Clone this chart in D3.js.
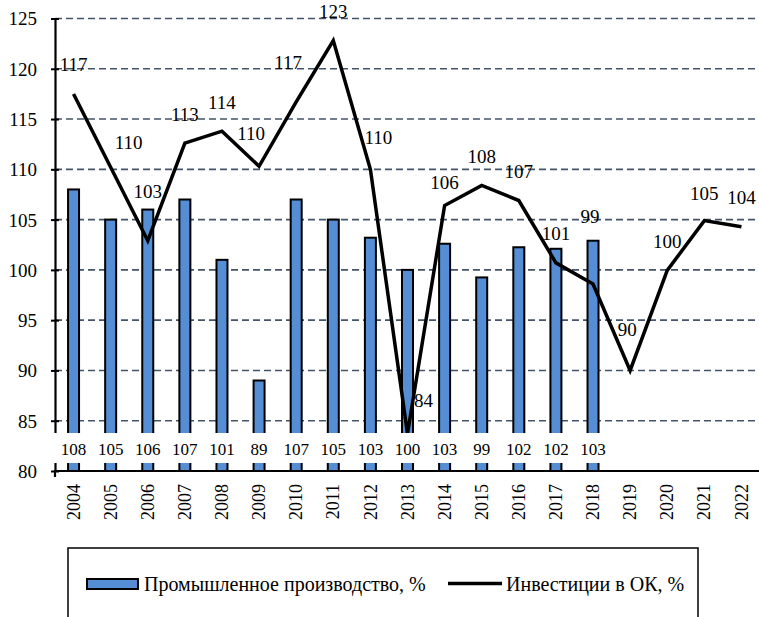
<!DOCTYPE html>
<html><head><meta charset="utf-8">
<script src="https://cdn.jsdelivr.net/npm/d3@7"></script>
<style>
html,body{margin:0;padding:0;background:#fff;}
svg{display:block;}
svg text{font-family:"Liberation Serif","Times New Roman",serif;}
</style></head>
<body>
<svg id="chart" width="759" height="617"></svg>
<script>
const years = ["2004","2005","2006","2007","2008","2009","2010","2011","2012","2013","2014","2015","2016","2017","2018","2019","2020","2021","2022"];
const industrial = [108,105,106,107,101,89,107,105,103.2,100,102.6,99.25,102.25,102.1,102.9,null,null,null,null];
const industrialLabels = ["108","105","106","107","101","89","107","105","103","100","103","99","102","102","103"];
const investment = [117.5,110.2,102.9,112.6,113.8,110.3,116.7,122.8,110,83.7,106.4,108.4,106.9,100.7,98.6,90,99.95,104.9,104.3];
const investmentLabels = ["117","110","103","113","114","110","117","123","110","84","106","108","107","101","99","90","100","105","104"];
const yTicks = [80,85,90,95,100,105,110,115,120,125];
const seriesNames = ["Промышленное производство, %","Инвестиции в ОК, %"];

// layout-only nudges for line data labels (px)
const labelNudge = {"2005":[18,4],"2006":[0,-20],"2009":[-8,-4],"2010":[-8,-10],"2012":[8,-3],"2013":[16,-4],"2014":[0,6],"2018":[-3,-38],"2019":[-3,-12],"2021":[0,2]};

const FONT = "Liberation Serif";
const svg = d3.select("#chart");
const pLeft = 55, pRight = 760, pTop = 18.5, pBottom = 471;
const x = d3.scaleBand().domain(years).range([pLeft, pRight]);
const y = d3.scaleLinear().domain([80,125]).range([pBottom, pTop]);
const blue = "#558ED5";

// gridlines
svg.append("g").selectAll("line").data(yTicks.filter(d => d > 80)).join("line")
  .attr("x1", pLeft).attr("x2", pRight)
  .attr("y1", d => y(d)).attr("y2", d => y(d))
  .attr("stroke", "#44546A").attr("stroke-width", 1.6).attr("stroke-dasharray", "7,4");

// bars
const barW = 11;
svg.append("g").selectAll("rect").data(years.map((yr,i)=>({yr, v: industrial[i]})).filter(d => d.v != null)).join("rect")
  .attr("x", d => x(d.yr) + x.bandwidth()/2 - barW/2)
  .attr("width", barW)
  .attr("y", d => y(d.v))
  .attr("height", d => y(80) - y(d.v))
  .attr("fill", blue).attr("stroke", "#000").attr("stroke-width", 2);

// y axis
const yAxis = d3.axisLeft(y).tickValues(yTicks).tickSize(0).tickPadding(18).tickFormat(d3.format("d"));
const ya = svg.append("g").attr("transform", `translate(${pLeft},0)`).call(yAxis).attr("font-family", FONT);
ya.select(".domain").attr("stroke", "#000").attr("stroke-width", 2.2);
ya.selectAll(".tick text").attr("font-family", FONT).attr("font-size", 19).attr("fill", "#000").attr("dy", "0.34em");
ya.selectAll(".tick").append("line").attr("x1", -4).attr("x2", 4).attr("stroke", "#000").attr("stroke-width", 2);

// line
const line = d3.line().x((d,i) => x(years[i]) + x.bandwidth()/2).y(d => y(d));
svg.append("path").datum(investment).attr("d", line)
  .attr("fill", "none").attr("stroke", "#000").attr("stroke-width", 3.5).attr("stroke-linejoin", "miter");

// white band behind bar labels
svg.append("rect").attr("x", pLeft - 6).attr("y", 433).attr("width", pRight - pLeft + 6).attr("height", 30).attr("fill", "#fff");

// bar labels
svg.append("g").selectAll("text").data(industrialLabels).join("text")
  .attr("font-family", FONT)
  .attr("x", (d,i) => x(years[i]) + x.bandwidth()/2)
  .attr("y", 449).attr("dy", "0.34em")
  .attr("text-anchor", "middle").attr("font-size", 17).text(d => d);

// x axis
const xAxis = d3.axisBottom(x).tickSize(0).tickPadding(0);
const xa = svg.append("g").attr("transform", `translate(0,${pBottom})`).call(xAxis).attr("font-family", FONT);
xa.select(".domain").attr("stroke", "#000").attr("stroke-width", 2.2).attr("d", `M${pLeft},6V0H${pRight}`);
xa.selectAll(".tick text").attr("font-family", FONT).attr("font-size", 18).attr("fill", "#000")
  .attr("transform", "rotate(-90)").attr("text-anchor", "end").attr("x", -13).attr("y", 0).attr("dy", "0.34em");

// line labels
svg.append("g").selectAll("text").data(investmentLabels).join("text")
  .attr("font-family", FONT)
  .attr("x", (d,i) => x(years[i]) + x.bandwidth()/2 + (labelNudge[years[i]] ? labelNudge[years[i]][0] : 0))
  .attr("y", (d,i) => y(investment[i]) - 29 + (labelNudge[years[i]] ? labelNudge[years[i]][1] : 0))
  .attr("dy", "0.34em").attr("text-anchor", "middle").attr("font-size", 19).text(d => d);

// legend
const lg = svg.append("g");
lg.append("rect").attr("x", 68).attr("y", 548).attr("width", 630).attr("height", 90)
  .attr("fill", "none").attr("stroke", "#000").attr("stroke-width", 1.5);
lg.append("rect").attr("x", 87).attr("y", 579).attr("width", 51).attr("height", 10)
  .attr("fill", blue).attr("stroke", "#000").attr("stroke-width", 2);
lg.append("text").attr("font-family", FONT).attr("x", 144).attr("y", 591).attr("font-size", 20).text(seriesNames[0]);
lg.append("line").attr("x1", 448).attr("x2", 502).attr("y1", 583.5).attr("y2", 583.5)
  .attr("stroke", "#000").attr("stroke-width", 3.5);
lg.append("text").attr("font-family", FONT).attr("x", 506).attr("y", 591).attr("font-size", 20).text(seriesNames[1]);
</script>
</body></html>
